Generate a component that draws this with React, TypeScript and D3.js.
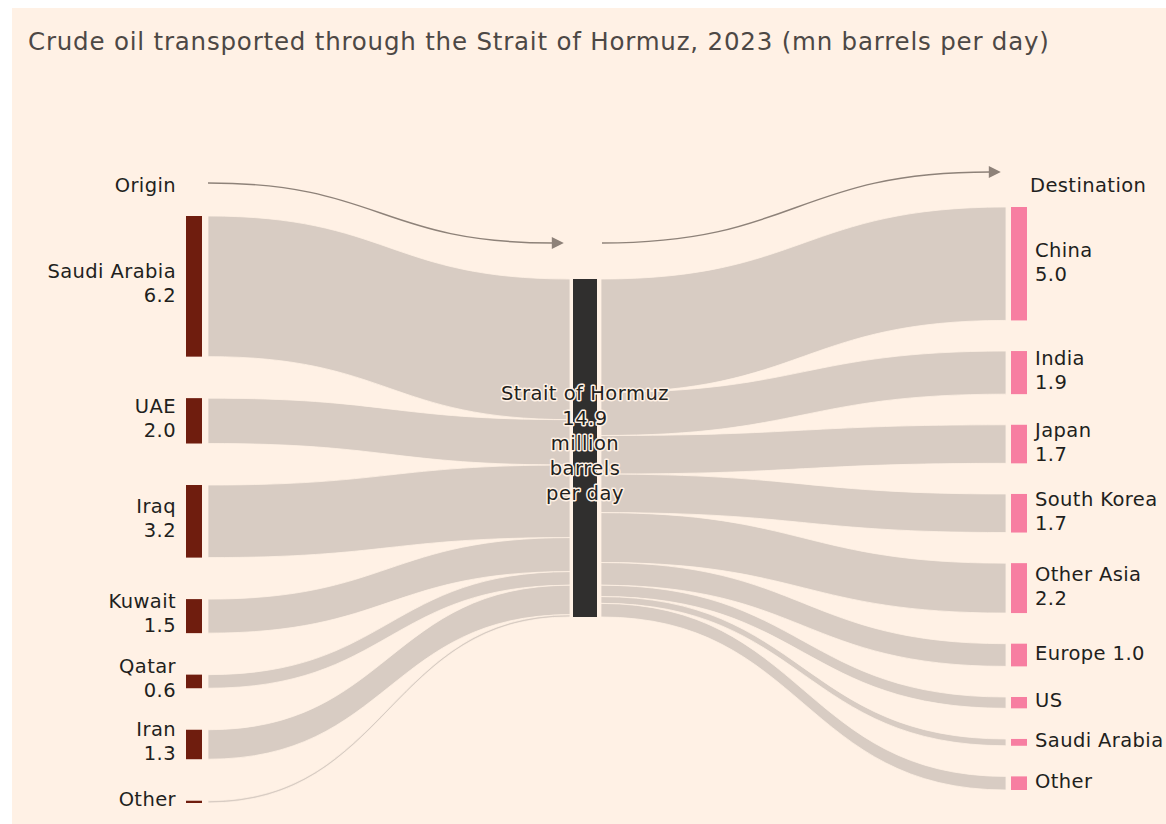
import React, { useEffect, useRef } from 'react';
import * as d3 from 'd3';

// origin side (left)
const origins = ['Saudi Arabia', 'UAE', 'Iraq', 'Kuwait', 'Qatar', 'Iran', 'Other'];
const originValues = [6.2, 2.0, 3.2, 1.5, 0.6, 1.3, 0.1];
const originLabels = [['Saudi Arabia', '6.2'], ['UAE', '2.0'], ['Iraq', '3.2'], ['Kuwait', '1.5'], ['Qatar', '0.6'], ['Iran', '1.3'], ['Other']];

// destination side (right)
const destinations = ['China', 'India', 'Japan', 'South Korea', 'Other Asia', 'Europe', 'US', 'Saudi Arabia', 'Other'];
const destValues = [5.0, 1.9, 1.7, 1.7, 2.2, 1.0, 0.5, 0.3, 0.6];
const destLabels = [['China', '5.0'], ['India', '1.9'], ['Japan', '1.7'], ['South Korea', '1.7'], ['Other Asia', '2.2'], ['Europe 1.0'], ['US'], ['Saudi Arabia'], ['Other']];

const hubLabel = ['Strait of Hormuz', '14.9', 'million', 'barrels', 'per day'];
const title = 'Crude oil transported through the Strait of Hormuz, 2023 (mn barrels per day)';

function App() {
    const svgRef = useRef(null);

    useEffect(() => {
        const W = 1166, H = 824;
        const bg = '#fff1e5';
        const linkColor = '#d8ccc3';
        const textColor = '#221f1d';
        const font = '"DejaVu Sans", sans-serif';

        const svg = d3.select(svgRef.current);
        svg.selectAll('*').remove();
        svg.attr('width', W).attr('height', H);

        svg.append('rect').attr('x', 12).attr('y', 8).attr('width', W - 12).attr('height', H - 8).attr('fill', bg);

        svg.append('text')
            .attr('x', 28).attr('y', 50)
            .attr('font-family', font).attr('font-size', 24.5)
            .attr('letter-spacing', 0.8)
            .attr('fill', '#4d4845')
            .text(title);

        const total = d3.sum(originValues);
        const k = d3.scaleLinear().domain([0, total]).range([0, 338]);

        // x positions
        const leftNodeX = 186, nodeW = 16, leftLinkX = 208;
        const hubX = 573, hubW = 24, hubLinkL = 570, hubLinkR = 601;
        const rightLinkX = 1006, rightNodeX = 1011;

        // vertical stacking
        const stack = (vals, top, bottom) => {
            const pad = (bottom - top - k(d3.sum(vals))) / (vals.length - 1);
            let y = top;
            return vals.map(v => {
                const n = { y0: y, y1: y + k(v) };
                y = n.y1 + pad;
                return n;
            });
        };
        const stackTight = (vals, top) => {
            let y = top;
            return vals.map(v => {
                const n = { y0: y, y1: y + k(v) };
                y = n.y1;
                return n;
            });
        };

        const oNodes = stack(originValues, 216, 803);
        const dNodes = stack(destValues, 207, 790);
        const hubTop = 279;
        const oAtHub = stackTight(originValues, hubTop);
        const dAtHub = stackTight(destValues, hubTop);

        const ribbon = (x0, a0, a1, x1, b0, b1) => {
            const p = d3.path();
            const xm = (x0 + x1) / 2;
            p.moveTo(x0, a0);
            p.bezierCurveTo(xm, a0, xm, b0, x1, b0);
            p.lineTo(x1, b1);
            p.bezierCurveTo(xm, b1, xm, a1, x0, a1);
            p.closePath();
            return p.toString();
        };

        const links = svg.append('g');
        oNodes.forEach((n, i) => {
            links.append('path')
                .attr('d', ribbon(leftLinkX, n.y0, n.y1, hubLinkL, oAtHub[i].y0, oAtHub[i].y1))
                .attr('fill', linkColor).attr('stroke', bg).attr('stroke-width', 0.8);
        });
        dNodes.forEach((n, i) => {
            links.append('path')
                .attr('d', ribbon(hubLinkR, dAtHub[i].y0, dAtHub[i].y1, rightLinkX, n.y0, n.y1))
                .attr('fill', linkColor).attr('stroke', bg).attr('stroke-width', 0.8);
        });

        // nodes
        svg.append('g').selectAll('rect').data(oNodes).join('rect')
            .attr('x', leftNodeX).attr('width', nodeW)
            .attr('y', d => d.y0).attr('height', d => Math.max(1.2, d.y1 - d.y0))
            .attr('fill', '#6f1d0e');
        svg.append('g').selectAll('rect').data(dNodes).join('rect')
            .attr('x', rightNodeX).attr('width', nodeW)
            .attr('y', d => d.y0).attr('height', d => d.y1 - d.y0)
            .attr('fill', '#f77ea1');
        svg.append('rect')
            .attr('x', hubX).attr('width', hubW)
            .attr('y', hubTop).attr('height', k(total))
            .attr('fill', '#302f2e');

        const lineH = 24;
        const multiLabel = (g, lines, x, yc, anchor, size = 19.5, lh = lineH) => {
            const t = g.append('text')
                .attr('x', x).attr('text-anchor', anchor)
                .attr('font-family', font).attr('font-size', size)
                .attr('letter-spacing', 0.4)
                .attr('fill', textColor);
            const y0 = yc - (lines.length - 1) * lh / 2;
            lines.forEach((l, j) => {
                t.append('tspan').attr('x', x).attr('y', y0 + j * lh).attr('dy', '0.35em').text(l);
            });
            return t;
        };

        const labels = svg.append('g');
        oNodes.forEach((n, i) => multiLabel(labels, originLabels[i], 176, (n.y0 + n.y1) / 2 - 3, 'end'));
        dNodes.forEach((n, i) => multiLabel(labels, destLabels[i], 1035, (n.y0 + n.y1) / 2 - 2, 'start'));

        multiLabel(labels, ['Origin'], 176, 185, 'end');
        multiLabel(labels, ['Destination'], 1030, 185, 'start');

        // hub label with halo
        const hub = multiLabel(labels, hubLabel, hubX + hubW / 2, 443, 'middle', 19.5, 25);
        hub.attr('stroke', bg).attr('stroke-width', 3).attr('stroke-linejoin', 'round')
            .attr('paint-order', 'stroke').attr('letter-spacing', 0.5);

        // arrows
        const arrowColor = '#8e8279';
        svg.append('defs').append('marker')
            .attr('id', 'arrowhead')
            .attr('viewBox', '0 0 10 10')
            .attr('refX', 1).attr('refY', 5)
            .attr('markerUnits', 'userSpaceOnUse')
            .attr('markerWidth', 14).attr('markerHeight', 12)
            .attr('orient', 'auto')
            .append('path').attr('d', 'M0,0L10,5L0,10Z').attr('fill', arrowColor);

        const arrowLink = d3.linkHorizontal();
        svg.append('path')
            .attr('d', arrowLink({ source: [208, 183], target: [553, 243] }))
            .attr('fill', 'none').attr('stroke', arrowColor).attr('stroke-width', 1.4)
            .attr('marker-end', 'url(#arrowhead)');
        svg.append('path')
            .attr('d', arrowLink({ source: [602, 243], target: [990, 172] }))
            .attr('fill', 'none').attr('stroke', arrowColor).attr('stroke-width', 1.4)
            .attr('marker-end', 'url(#arrowhead)');
    }, []);

    return (
        <div style={{ position: 'absolute', left: 0, top: 0 }}>
            <svg ref={svgRef} style={{ display: 'block' }}></svg>
        </div>
    );
}

export default App;
